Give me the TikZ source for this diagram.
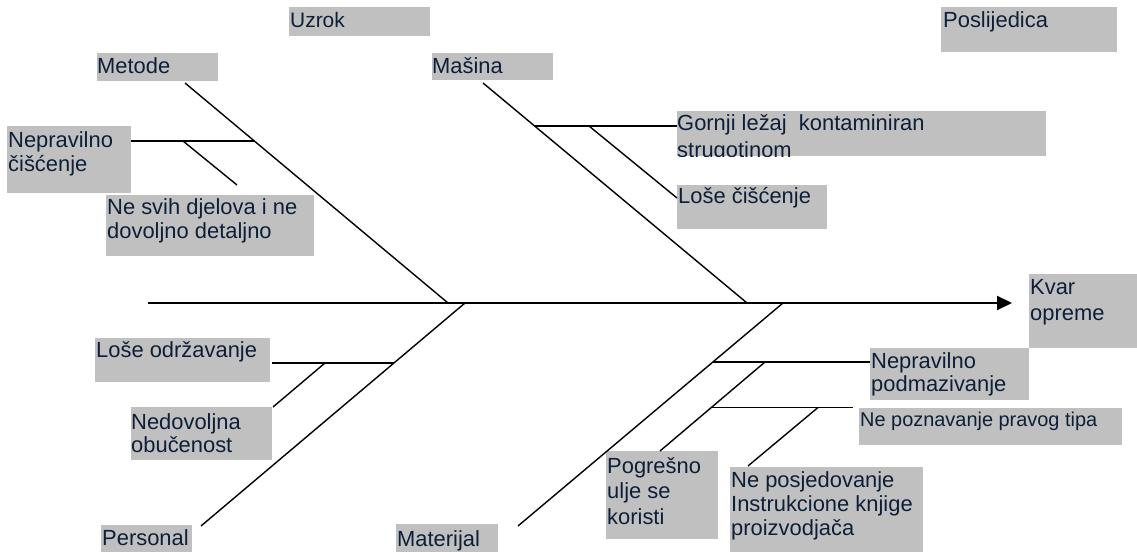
\documentclass[tikz,border=0pt]{standalone}
\usepackage{fontspec}
\setmainfont{Liberation Sans}
\usetikzlibrary{arrows.meta}
\definecolor{ink}{RGB}{13,31,56}
\definecolor{boxgray}{RGB}{192,192,192}
\tikzset{
  gbox/.style={fill=boxgray, draw=none, anchor=north west, inner sep=0pt},
  lbl/.style={anchor=base west, inner sep=0pt, text=ink, font=\fontsize{22}{24}\selectfont},
  bone/.style={line width=1.4bp, black},
  twig/.style={line width=1.9bp, black},
  spine/.style={line width=2bp, black, -{Triangle[length=15bp,width=14bp]}},
}
\newcommand\grbox[5]{\node[gbox, minimum width=#4bp, minimum height=#5bp] (#1) at (#2,#3) {};}
\newcommand\pb[1]{\parbox[t]{400bp}{#1}}
\begin{document}
\begin{tikzpicture}[x=1bp, y=-1bp]
\useasboundingbox (0,0) rectangle (1137,552);
% boxes
\grbox{uzrok}{289}{7}{141}{29}
\grbox{metode}{97}{53}{121}{28}
\grbox{neprc}{7}{126}{124}{67}
\grbox{nesvih}{106}{195}{208}{61}
\grbox{masina}{432}{53}{121}{27}
\grbox{posl}{941}{7}{176}{45}
\grbox{gornji}{677}{111}{369}{45}
\grbox{losec}{677}{185}{150}{44}
\grbox{kvar}{1029}{274}{108}{74}
\grbox{podm}{870}{348}{159}{52}
\grbox{pozn}{859}{408}{263}{37}
\grbox{pogr}{606}{451}{112}{88}
\grbox{posj}{730}{467}{193}{85}
\grbox{mat}{396}{524}{102}{28}
\grbox{pers}{101}{525}{91}{27}
\grbox{loseo}{95}{338}{175}{44}
\grbox{nedov}{131}{407}{141}{53}
% labels
\node[lbl, font=\fontsize{21}{24}\selectfont] (uzrokT) at (290,28) {\pb{Uzrok}};
\node[lbl] (metodeT) at (97,74) {\pb{Metode}};
\node[lbl, font=\fontsize{22}{23.5}\selectfont] (neprcT) at (8,148) {\pb{Nepravilno\\čišćenje}};
\node[lbl] (nesvihT) at (107,215) {\pb{Ne svih djelova i ne\\dovoljno detaljno}};
\node[lbl] (masinaT) at (432,74) {\pb{Mašina}};
\node[lbl] (poslT) at (943,28) {\pb{Poslijedica}};
\begin{scope}
  \clip (gornji.north west) rectangle (gornji.south east);
  \node[lbl, font=\fontsize{22}{27}\selectfont] (gornjiT) at (677,131) {\pb{Gornji ležaj\ \ kontaminiran\\strugotinom}};
\end{scope}
\node[lbl] (losecT) at (678,204) {\pb{Loše čišćenje}};
\node[lbl, font=\fontsize{22}{26}\selectfont] (kvarT) at (1030,295) {\pb{Kvar\\opreme}};
\node[lbl, font=\fontsize{22}{22.5}\selectfont] (podmT) at (871,369) {\pb{Nepravilno\\podmazivanje}};
\node[lbl, font=\fontsize{20}{23}\selectfont] (poznT) at (860,426) {\pb{Ne poznavanje pravog tipa}};
\node[lbl, font=\fontsize{22}{25.8}\selectfont] (pogrT) at (607,473) {\pb{Pogrešno\\ulje se\\koristi}};
\node[lbl, font=\fontsize{22}{24.5}\selectfont] (posjT) at (731,487) {\pb{Ne posjedovanje\\Instrukcione knjige\\proizvodjača}};
\node[lbl] (matT) at (397,546) {\pb{Materijal}};
\node[lbl] (persT) at (102,545) {\pb{Personal}};
\node[lbl] (loseoT) at (96,358) {\pb{Loše održavanje}};
\node[lbl] (nedovT) at (131,429) {\pb{Nedovoljna\\obučenost}};
% coordinates
\coordinate (sp0) at (148,303);
\coordinate (sp1) at (1012,303);
\coordinate (m0) at (185,83);   \coordinate (m1) at (448,303);
\coordinate (mh) at (254,141);  \coordinate (nh) at (131,141);
\coordinate (ms0) at (183,141); \coordinate (ms1) at (237,185);
\coordinate (a0) at (483,83);   \coordinate (a1) at (747,303);
\coordinate (ah) at (535,126);  \coordinate (gh) at (677,126);
\coordinate (as0) at (589,126); \coordinate (as1) at (677,198);
\coordinate (p0) at (465,303);  \coordinate (p1) at (201,526);
\coordinate (ph) at (394,363);  \coordinate (lh) at (272,363);
\coordinate (ps0) at (325,363); \coordinate (ps1) at (273,407);
\coordinate (t0) at (783,303);  \coordinate (t1) at (518,526);
\coordinate (th) at (713,362);  \coordinate (nph) at (870,362);
\coordinate (ts0) at (765,362); \coordinate (ts1) at (660,451);
\coordinate (uh) at (711,407.5); \coordinate (zh) at (853,407.5);
\coordinate (us0) at (818,407.5); \coordinate (us1) at (748,466);
% spine
\draw[spine] (sp0) -- (sp1);
% bones
\draw[bone] (m0) -- (m1);
\draw[twig] (nh) -- (mh);
\draw[bone] (ms0) -- (ms1);
\draw[bone] (a0) -- (a1);
\draw[twig] (ah) -- (gh);
\draw[bone] (as0) -- (as1);
\draw[bone] (p0) -- (p1);
\draw[twig] (lh) -- (ph);
\draw[bone] (ps0) -- (ps1);
\draw[bone] (t0) -- (t1);
\draw[twig] (th) -- (nph);
\draw[bone] (ts0) -- (ts1);
\draw[twig] (uh) -- (zh);
\draw[bone] (us0) -- (us1);
\end{tikzpicture}
\end{document}
